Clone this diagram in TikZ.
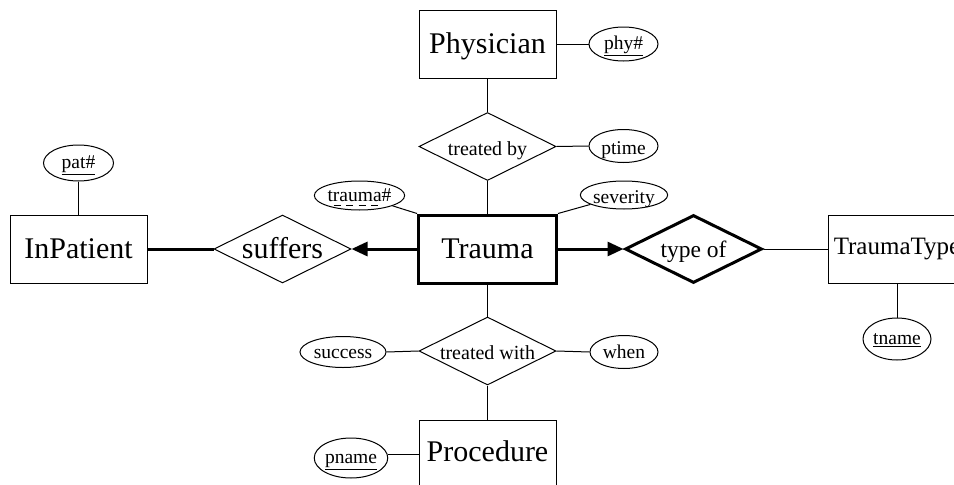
\documentclass[tikz,border=0pt]{standalone}
\usepackage{fontspec}
\setmainfont{Liberation Serif}
\usetikzlibrary{shapes.geometric,arrows.meta}
\tikzset{
  ent/.style={draw, line width=1pt, rectangle, minimum width=137pt, minimum height=68pt, inner sep=0pt, font=\fontsize{30}{36}\selectfont, text height=18.5pt, text depth=0pt},
  rel/.style={draw, line width=1pt, diamond, aspect=2, minimum width=137pt, minimum height=68pt, inner sep=0pt, text depth=0pt},
  attr/.style={draw, line width=1pt, ellipse, inner sep=0pt, font=\fontsize{19.5}{23}\selectfont},
  plain/.style={text height=15pt, text depth=0pt},
  keyattr/.style={text height=13.5pt, text depth=2pt},
  conn/.style={line width=1pt},
  thickconn/.style={line width=3pt},
  tip/.style={-{Triangle[length=16pt,width=14pt]}},
}
\begin{document}
\begin{tikzpicture}[x=1pt,y=-1pt]
\useasboundingbox (0,0) rectangle (954,485);
\clip (0,0) rectangle (954,485);
% entities
\node[ent] (physician) at (487.5,44) {Physician};
\node[ent, line width=3pt, minimum width=138pt] (trauma) at (487.5,249) {Trauma};
\node[ent] (inpatient) at (78.5,249) {InPatient};
\node[ent, text height=15pt] (procedure) at (487.5,454) {Procedure};
\node[ent, minimum width=138pt, font=\fontsize{25}{30}\selectfont, text height=16.5pt, text depth=5pt] (traumatype) at (897,249) {TraumaType};
% relationships
\node[rel, font=\fontsize{20}{24}\selectfont, text height=17pt] (treatedby) at (487.5,146.5) {treated by};
\node[rel, font=\fontsize{30}{36}\selectfont, text height=18.5pt] (suffers) at (282.5,249) {suffers};
\node[rel, line width=3pt, font=\fontsize{23.5}{28}\selectfont, text height=16pt] (typeof) at (693.5,249) {type of};
\node[rel, font=\fontsize{20}{24}\selectfont, text height=16pt] (treatedwith) at (487.5,351) {treated with};
% attributes
\node[attr, keyattr, minimum width=69pt, minimum height=34pt] (phy) at (623.5,44) {\underline{phy\#}};
\node[attr, plain, text height=16pt, minimum width=69pt, minimum height=33pt] (ptime) at (623.5,146) {ptime};
\node[attr, keyattr, minimum width=70pt, minimum height=36pt] (pat) at (78.5,163) {\underline{pat\#}};
\node[attr, minimum width=85pt, minimum height=29pt] (tnum) at (359.5,195.5) {trauma\#};
\node[attr, plain, text height=16pt, minimum width=84pt, minimum height=28pt] (severity) at (624,195) {severity};
\node[attr, plain, text height=12pt, minimum width=86pt, minimum height=31pt] (success) at (343,352) {success};
\node[attr, plain, text height=13pt, minimum width=68pt, minimum height=33pt] (when) at (624,352) {when};
\node[attr, keyattr, minimum width=68pt, minimum height=42pt] (tname) at (897,339) {\underline{tname}};
\node[attr, keyattr, minimum width=68pt, minimum height=40pt] (pname) at (351,458) {\underline{pname}};
% dashed underline of trauma#
\draw[line width=0.8pt, dash pattern=on 7pt off 5.5pt] ([shift={(-26,10)}]tnum.center) -- ([shift={(23,10)}]tnum.center);
% connectors
\draw[conn] (physician.south) -- (treatedby.north);
\draw[conn] (physician.east) -- (phy.west);
\draw[conn] (treatedby.east) -- (ptime.west);
\draw[conn] (treatedby.south) -- (trauma.north);
\draw[conn] (trauma.north west) -- (tnum);
\draw[conn] (trauma.north east) -- (severity);
\draw[thickconn, tip] (trauma.west) -- (suffers.east);
\draw[thickconn] (inpatient.east) -- (suffers.west);
\draw[conn] (pat.south) -- (inpatient.north);
\draw[thickconn, tip] (trauma.east) -- (typeof.west);
\draw[conn] (typeof.east) -- (traumatype.west);
\draw[conn] (traumatype.south) -- (tname.north);
\draw[conn] (trauma.south) -- (treatedwith.north);
\draw[conn] (success.east) -- (treatedwith.west);
\draw[conn] (treatedwith.east) -- (when.west);
\draw[conn] (treatedwith.south) -- (procedure.north);
\draw[conn] (procedure.west) -- (procedure.west -| pname.east);
\end{tikzpicture}
\end{document}
